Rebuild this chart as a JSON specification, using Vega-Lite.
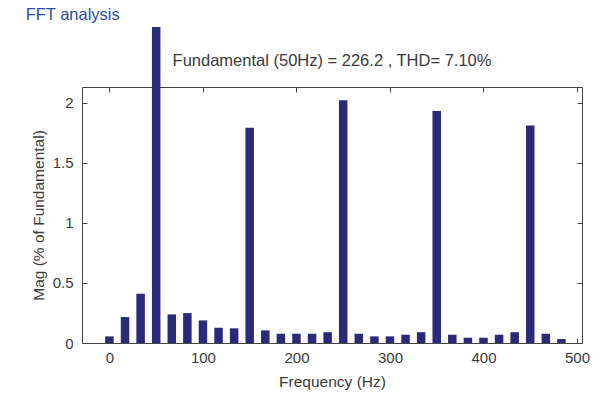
{
  "$schema": "https://vega.github.io/schema/vega-lite/v6.json",
  "autosize": {"type": "pad"},
  "padding": {"left": 25, "top": 6, "right": 2, "bottom": 5},
  "background": "white",
  "title": {"text": "FFT analysis", "anchor": "start", "color": "#2b4aa8", "fontSize": 16.5, "font": "Liberation Sans", "fontWeight": "normal", "offset": 3, "dx": -5},
  "config": {
    "font": "Liberation Sans",
    "view": {"stroke": "#444", "strokeWidth": 1},
    "axis": {"labelFont": "Liberation Sans", "titleFont": "Liberation Sans", "labelColor": "#3a3a3a", "titleColor": "#3a3a3a", "labelFontSize": 15, "titleFontSize": 15.5, "titleFontWeight": "normal", "domainColor": "#444", "tickColor": "#444", "grid": false}
  },
  "vconcat": [
    {
      "width": 500,
      "height": 256,
      "title": {"text": "Fundamental (50Hz) = 226.2 , THD= 7.10%", "fontSize": 16.5, "fontWeight": "normal", "color": "#3a3a3a", "font": "Liberation Sans", "offset": -43},
      "data": {"values": [
        {"f": 0, "mag": 0.055},
        {"f": 16.67, "mag": 0.216},
        {"f": 33.33, "mag": 0.41},
        {"f": 50, "mag": 2.63},
        {"f": 66.67, "mag": 0.238},
        {"f": 83.33, "mag": 0.249},
        {"f": 100, "mag": 0.188},
        {"f": 116.67, "mag": 0.127},
        {"f": 133.33, "mag": 0.122},
        {"f": 150, "mag": 1.79},
        {"f": 166.67, "mag": 0.105},
        {"f": 183.33, "mag": 0.077},
        {"f": 200, "mag": 0.077},
        {"f": 216.67, "mag": 0.077},
        {"f": 233.33, "mag": 0.09},
        {"f": 250, "mag": 2.02},
        {"f": 266.67, "mag": 0.077},
        {"f": 283.33, "mag": 0.055},
        {"f": 300, "mag": 0.055},
        {"f": 316.67, "mag": 0.069},
        {"f": 333.33, "mag": 0.09},
        {"f": 350, "mag": 1.93},
        {"f": 366.67, "mag": 0.069},
        {"f": 383.33, "mag": 0.044},
        {"f": 400, "mag": 0.044},
        {"f": 416.67, "mag": 0.069},
        {"f": 433.33, "mag": 0.09},
        {"f": 450, "mag": 1.81},
        {"f": 466.67, "mag": 0.077},
        {"f": 483.33, "mag": 0.033}
      ]},
      "layer": [
        {
          "mark": {"type": "bar", "color": "#2b2a78", "size": 8.5, "clip": false},
          "encoding": {
            "x": {"field": "f", "type": "quantitative", "title": "Frequency (Hz)",
              "scale": {"domain": [-24, 500], "nice": false, "zero": false},
              "axis": {"values": [0, 100, 200, 300, 400, 500], "tickSize": -5, "labelPadding": 12, "titlePadding": 9, "domain": false}},
            "y": {"field": "mag", "type": "quantitative", "title": "Mag (% of Fundamental)",
              "scale": {"domain": [0, 2.13], "nice": false},
              "axis": {"values": [0, 0.5, 1, 1.5, 2], "format": "~g", "tickSize": -5, "labelPadding": 14, "titlePadding": 6, "domain": false}}
          }
        },
        {
          "mark": {"type": "bar", "opacity": 0, "size": 8.5},
          "encoding": {
            "x": {"field": "f", "type": "quantitative",
              "axis": {"orient": "top", "values": [0, 100, 200, 300, 400, 500], "tickSize": -5, "labels": false, "title": null, "domain": false}},
            "y": {"field": "mag", "type": "quantitative",
              "axis": {"orient": "right", "values": [0, 0.5, 1, 1.5, 2], "tickSize": -5, "labels": false, "title": null, "domain": false}}
          }
        }
      ],
      "resolve": {"axis": {"x": "independent", "y": "independent"}}
    }
  ]
}
